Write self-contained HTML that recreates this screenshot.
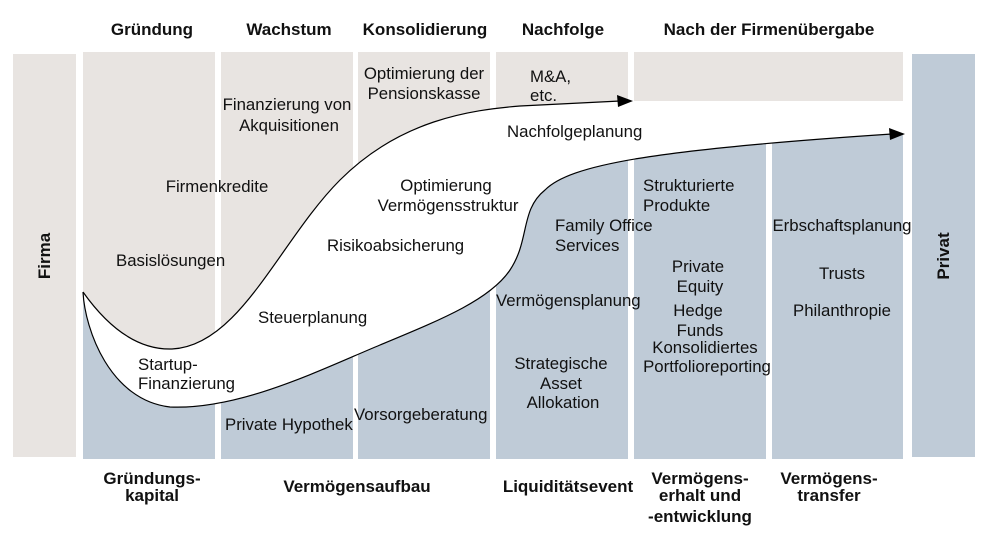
<!DOCTYPE html>
<html><head><meta charset="utf-8"><style>
html,body{margin:0;padding:0;background:#fff;}
svg{display:block;}
text{font-family:"Liberation Sans",sans-serif;font-size:16.8px;fill:#111;}
.b{font-family:"Liberation Sans Narrow","Liberation Sans",sans-serif;font-weight:bold;font-size:17px;}
.c{text-anchor:middle;}
</style></head><body>
<svg width="989" height="536" viewBox="0 0 989 536" xmlns="http://www.w3.org/2000/svg">
<defs>
<clipPath id="top"><path d="M0,0 L989,0 L989,101 L625,101 L520,106 C470,110 400,120 340,180 C280,240 240,346 172,349 C140,350 110,330 83,292 L0,292 Z"/></clipPath>
</defs>
<rect x="13" y="54" width="63" height="403" fill="#e8e4e1"/>
<rect x="912" y="54" width="63" height="403" fill="#bfcbd7"/>
<g fill="#bfcbd7">
<rect x="83" y="52" width="132" height="407"/>
<rect x="221" y="52" width="132" height="407"/>
<rect x="358" y="52" width="132" height="407"/>
<rect x="496" y="52" width="132" height="407"/>
<rect x="634" y="52" width="132" height="407"/>
<rect x="772" y="52" width="131" height="407"/>
</g>
<g fill="#e8e4e1" clip-path="url(#top)">
<rect x="83" y="52" width="132" height="407"/>
<rect x="221" y="52" width="132" height="407"/>
<rect x="358" y="52" width="132" height="407"/>
<rect x="496" y="52" width="132" height="407"/>
<rect x="634" y="52" width="269" height="49"/>
</g>
<path d="M83,292 C85,330 110,400 170,407 C240,410 320,370 380,345 C440,320 490,300 510,270 C530,240 520,210 545,190 C570,165 650,150 895,134 L905,134 L905,101 L625,101 L520,106 C470,110 400,120 340,180 C280,240 240,346 172,349 C140,350 110,330 83,292 Z" fill="#fff"/>
<g fill="none" stroke="#000" stroke-width="1.2">
<path d="M83,292 C110,330 140,350 172,349 C240,346 280,240 340,180 C400,120 470,110 520,106 L620,101"/>
<path d="M83,292 C85,330 110,400 170,407 C240,410 320,370 380,345 C440,320 490,300 510,270 C530,240 520,210 545,190 C570,165 650,150 892,134"/>
</g>
<polygon points="633,101 617,95 618,107" fill="#000"/>
<polygon points="905,134 889,128 890,140" fill="#000"/>

<text class="b c" x="152" y="35">Gründung</text>
<text class="b c" x="289" y="35">Wachstum</text>
<text class="b c" x="425" y="35">Konsolidierung</text>
<text class="b c" x="563" y="35">Nachfolge</text>
<text class="b c" x="769" y="35">Nach der Firmenübergabe</text>
<text class="b c" transform="translate(50,256) rotate(-90)">Firma</text>
<text class="b c" transform="translate(949,256) rotate(-90)">Privat</text>

<text class="c" x="424" y="79">Optimierung der</text>
<text class="c" x="424" y="99">Pensionskasse</text>
<text class="c" x="287" y="110">Finanzierung von</text>
<text class="c" x="289" y="131">Akquisitionen</text>
<text x="530" y="82">M&amp;A,</text>
<text x="530" y="101">etc.</text>
<text x="507" y="137">Nachfolgeplanung</text>
<text class="c" x="217" y="192">Firmenkredite</text>
<text class="c" x="446" y="191">Optimierung</text>
<text class="c" x="448" y="211">Vermögensstruktur</text>
<text x="643" y="191">Strukturierte</text>
<text x="643" y="211">Produkte</text>
<text x="555" y="231">Family Office</text>
<text x="555" y="251">Services</text>
<text class="c" x="842" y="231">Erbschaftsplanung</text>
<text x="327" y="251">Risikoabsicherung</text>
<text x="116" y="266">Basislösungen</text>
<text class="c" x="842" y="279">Trusts</text>
<text class="c" x="698" y="272">Private</text>
<text class="c" x="700" y="292">Equity</text>
<text x="496" y="306">Vermögensplanung</text>
<text class="c" x="842" y="316">Philanthropie</text>
<text x="258" y="323">Steuerplanung</text>
<text class="c" x="698" y="316">Hedge</text>
<text class="c" x="700" y="336">Funds</text>
<text class="c" x="705" y="353">Konsolidiertes</text>
<text class="c" x="707" y="372">Portfolioreporting</text>
<text x="138" y="370">Startup-</text>
<text x="138" y="389">Finanzierung</text>
<text class="c" x="561" y="369">Strategische</text>
<text class="c" x="561" y="389">Asset</text>
<text class="c" x="563" y="408">Allokation</text>
<text x="225" y="430">Private Hypothek</text>
<text x="354" y="420">Vorsorgeberatung</text>

<text class="b c" x="152" y="484">Gründungs-</text>
<text class="b c" x="152" y="501">kapital</text>
<text class="b c" x="357" y="492">Vermögensaufbau</text>
<text class="b c" x="568" y="492">Liquiditätsevent</text>
<text class="b c" x="700" y="484">Vermögens-</text>
<text class="b c" x="700" y="501">erhalt und</text>
<text class="b c" x="700" y="522">-entwicklung</text>
<text class="b c" x="829" y="484">Vermögens-</text>
<text class="b c" x="829" y="501">transfer</text>
</svg>
</body></html>
